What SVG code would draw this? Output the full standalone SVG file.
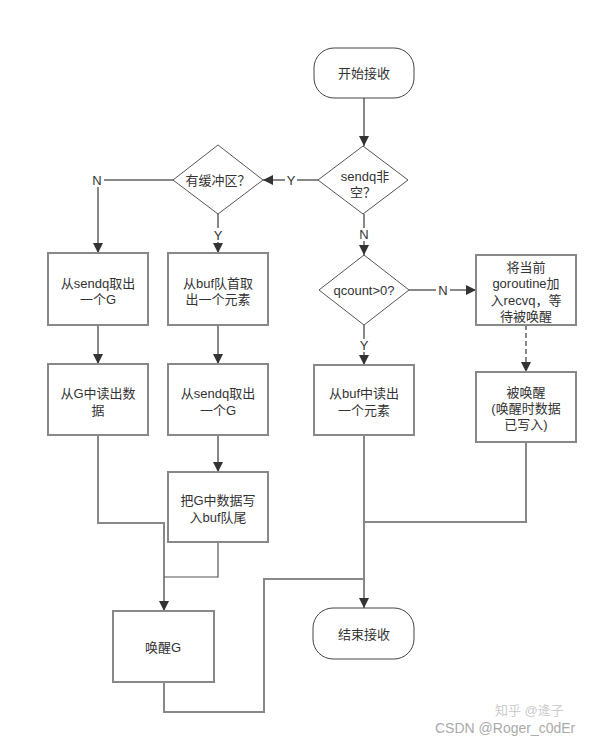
<svg xmlns="http://www.w3.org/2000/svg" width="608" height="744" viewBox="0 0 608 744">
<style>
text{font-family:"Liberation Sans","Noto Sans CJK SC",sans-serif;font-size:13px;fill:#333;text-anchor:middle;dominant-baseline:central}
.box{fill:#fff;stroke:#888;stroke-width:2}
.dia{fill:#fff;stroke:#555;stroke-width:1}
.term{fill:#fff;stroke:#444;stroke-width:1}
.ln{fill:none;stroke:#888;stroke-width:2}
.dk{fill:none;stroke:#555;stroke-width:1.2}
.wm{font-size:14px;fill:#aaa;text-anchor:start}
</style>
<defs>
<marker id="ah" viewBox="0 0 10 10" refX="10" refY="5" markerWidth="10" markerHeight="10" markerUnits="userSpaceOnUse" orient="auto">
<path d="M0,0 L10,5 L0,10 Z" fill="#333"/>
</marker>
</defs>
<rect width="608" height="744" fill="#fff"/>
<g id="connectors">
<path class="ln" d="M364,98 V146" marker-end="url(#ah)"/>
<path class="ln" d="M318,180 H297"/>
<path class="ln" d="M285,180 H263" marker-end="url(#ah)"/>
<path class="ln" d="M173,180 H104"/>
<path class="ln" d="M98,187 V253" marker-end="url(#ah)"/>
<path class="ln" d="M218,214 V228"/>
<path class="ln" d="M218,242 V253" marker-end="url(#ah)"/>
<path class="ln" d="M98,325 V364" marker-end="url(#ah)"/>
<path class="ln" d="M218,325 V364" marker-end="url(#ah)"/>
<path class="ln" d="M218,435 V472" marker-end="url(#ah)"/>
<path class="ln" d="M98,435 V523 H164 V611" marker-end="url(#ah)"/>
<path class="dk" d="M218,542 V577 H164"/>
<path class="ln" d="M164,682 V712 H264 V579 H364"/>
<path class="ln" d="M364,214 V228"/>
<path class="ln" d="M364,241 V255" marker-end="url(#ah)"/>
<path class="ln" d="M409,290 H436"/>
<path class="ln" d="M450,290 H476" marker-end="url(#ah)"/>
<path class="ln" d="M526,325 V372" stroke-dasharray="5,3" marker-end="url(#ah)"/>
<path class="ln" d="M364,325 V339"/>
<path class="ln" d="M364,352 V365" marker-end="url(#ah)"/>
<path class="ln" d="M364,435 V608" marker-end="url(#ah)"/>
<path class="ln" d="M526,442 V522 H364"/>
<text x="291" y="180">Y</text>
<text x="97" y="180">N</text>
<text x="218" y="235">Y</text>
<text x="364" y="234">N</text>
<text x="443" y="290">N</text>
<text x="364" y="345">Y</text>
</g>
<g id="start"><rect class="term" x="314" y="48" width="100" height="50" rx="20"/><text x="364" y="73">开始接收</text></g>
<g id="sendq"><polygon class="dia" points="363,146 408,180 363,214 318,180"/><text x="365" y="176">sendq非</text><text x="363" y="192">空？</text></g>
<g id="hasbuf"><polygon class="dia" points="218,145 263,180 218,214 173,180"/><text x="218" y="180">有缓冲区？</text></g>
<g id="box1"><rect class="box" x="48" y="253" width="100" height="72"/><text x="98" y="283">从sendq取出</text><text x="98" y="299">一个G</text></g>
<g id="box2"><rect class="box" x="168" y="253" width="100" height="72"/><text x="218" y="283">从buf队首取</text><text x="218" y="299">出一个元素</text></g>
<g id="box3"><rect class="box" x="48" y="364" width="100" height="71"/><text x="98" y="393">从G中读出数</text><text x="98" y="410">据</text></g>
<g id="box4"><rect class="box" x="168" y="364" width="100" height="71"/><text x="218" y="393">从sendq取出</text><text x="218" y="410">一个G</text></g>
<g id="box5"><rect class="box" x="168" y="472" width="100" height="70"/><text x="218" y="500">把G中数据写</text><text x="218" y="517">入buf队尾</text></g>
<g id="wakeG"><rect class="box" x="113" y="611" width="101" height="71"/><text x="163" y="647">唤醒G</text></g>
<g id="qcount"><polygon class="dia" points="364,255 409,290 364,325 319,290"/><text x="364" y="290">qcount&gt;0?</text></g>
<g id="enqueue"><rect class="box" x="476" y="255" width="100" height="70"/><text x="526" y="267">将当前</text><text x="526" y="283">goroutine加</text><text x="526" y="300">入recvq，等</text><text x="526" y="316">待被唤醒</text></g>
<g id="woken"><rect class="box" x="476" y="372" width="100" height="70"/><text x="526" y="392">被唤醒</text><text x="526" y="408">(唤醒时数据</text><text x="526" y="424">已写入)</text></g>
<g id="readbuf"><rect class="box" x="314" y="365" width="100" height="70"/><text x="364" y="393">从buf中读出</text><text x="364" y="410">一个元素</text></g>
<g id="end"><rect class="term" x="313" y="608" width="101" height="51" rx="20"/><text x="364" y="634">结束接收</text></g>
<g id="watermark">
<text class="wm" x="495" y="710" style="fill:#ccc;font-size:13px">知乎 @逄子</text>
<text class="wm" x="435" y="728">CSDN @Roger_c0dEr</text>
</g>
</svg>
